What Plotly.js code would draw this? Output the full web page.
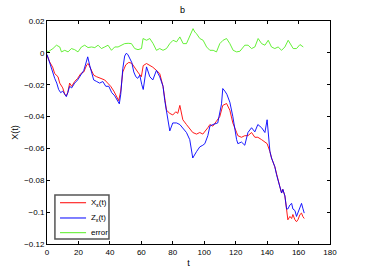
<!DOCTYPE html>
<html><head><meta charset="utf-8">
<script src="https://cdn.plot.ly/plotly-3.0.1.min.js"></script>
<style>html,body{margin:0;padding:0;background:#fff}#c{width:365px;height:275px}</style>
</head><body><div id="c"></div>
<script>
const tX = [0,1.7,3.6,4.9,7.0,8.1,10.0,11.3,12.2,13.2,14.4,15.7,17.6,19.5,21.5,23.4,25.3,26.2,27.8,29.7,31.6,34.2,36.7,38.6,40.5,42.5,44.0,45.6,46.9,48.2,50.1,52.0,53.9,55.8,57.7,60.0,61.2,63.3,65.4,67.3,69.6,71.7,73.8,74.9,76.0,78.1,80.0,81.9,83.2,84.5,86.4,88.7,90.8,92.7,95.1,97.2,99.1,100.4,102.3,103.6,105.5,107.7,109.9,111.8,114.2,116.3,118.2,120.6,121.4,123.7,125.8,127.8,130.1,132.2,134.1,136.5,138.6,140.0,141.8,142.8,144.9,146.0,146.9,148.1,149.2,150.0,151.3,152.4,153.2,154.5,155.6,156.4,157.7,158.7,159.6,160.9,161.9,162.7,163.6];
const X = [-0.0015,-0.0057,-0.009,-0.013,-0.015,-0.019,-0.022,-0.026,-0.027,-0.025,-0.019,-0.021,-0.018,-0.016,-0.013,-0.012,-0.0075,-0.0067,-0.010,-0.014,-0.015,-0.016,-0.017,-0.019,-0.021,-0.024,-0.027,-0.030,-0.024,-0.012,-0.0075,-0.006,-0.0065,-0.0097,-0.012,-0.015,-0.008,-0.0067,-0.0078,-0.009,-0.011,-0.013,-0.021,-0.030,-0.036,-0.038,-0.039,-0.037,-0.038,-0.033,-0.042,-0.045,-0.048,-0.050,-0.051,-0.050,-0.051,-0.0496,-0.047,-0.045,-0.046,-0.043,-0.040,-0.033,-0.0318,-0.036,-0.044,-0.050,-0.052,-0.053,-0.052,-0.052,-0.050,-0.053,-0.053,-0.0545,-0.056,-0.057,-0.062,-0.066,-0.0715,-0.0765,-0.080,-0.084,-0.088,-0.0857,-0.0898,-0.098,-0.1048,-0.1027,-0.104,-0.1015,-0.1048,-0.106,-0.1048,-0.1015,-0.1006,-0.1027,-0.104];
const tZ = [0,1.1,2.4,3.6,4.9,6.2,7.4,8.7,10.0,11.3,12.3,13.2,14.4,15.7,17.6,19.5,21.5,23.4,24.6,25.9,27.2,28.5,29.7,31.6,33.5,35.5,37.4,39.3,41.2,43.1,45.1,46.0,46.9,48.2,49.4,50.4,51.4,52.6,53.9,55.2,56.5,57.7,59.0,60.3,61.2,63.3,65.4,67.3,69.6,71.7,73.8,74.9,76.0,77.1,78.1,80.0,82.4,84.5,86.4,88.7,90.8,92.1,92.7,95.1,97.2,99.1,100.4,102.3,103.6,105.5,108.6,111.0,111.8,113.1,114.4,116.3,118.2,120.6,121.4,123.7,125.8,127.8,130.1,132.2,134.1,136.5,138.6,140.0,141.8,142.8,144.9,146.0,146.9,148.1,149.2,150.0,151.3,152.4,153.2,154.5,155.6,156.4,157.7,158.7,159.6,160.9,161.9,162.7,163.6];
const Z = [-0.001,-0.004,-0.008,-0.012,-0.016,-0.019,-0.023,-0.025,-0.024,-0.026,-0.0275,-0.025,-0.021,-0.022,-0.019,-0.017,-0.014,-0.011,-0.007,-0.0025,-0.008,-0.012,-0.017,-0.018,-0.019,-0.018,-0.021,-0.021,-0.025,-0.027,-0.030,-0.032,-0.026,-0.010,-0.002,-0.0003,-0.001,-0.003,-0.006,-0.012,-0.015,-0.016,-0.014,-0.020,-0.023,-0.0088,-0.015,-0.017,-0.011,-0.015,-0.021,-0.030,-0.036,-0.044,-0.049,-0.044,-0.044,-0.045,-0.047,-0.050,-0.0545,-0.062,-0.066,-0.062,-0.059,-0.058,-0.057,-0.052,-0.046,-0.045,-0.044,-0.032,-0.0224,-0.024,-0.026,-0.031,-0.040,-0.0545,-0.057,-0.056,-0.058,-0.050,-0.047,-0.0496,-0.045,-0.047,-0.050,-0.042,-0.062,-0.066,-0.0715,-0.0765,-0.080,-0.084,-0.088,-0.0857,-0.0898,-0.098,-0.098,-0.0955,-0.0945,-0.098,-0.099,-0.1027,-0.1006,-0.0966,-0.0945,-0.0975,-0.1006];
const tE = [0,0.6,3.8,6.0,8.1,9.2,11.3,13.4,15.5,17.6,19.7,21.9,24.0,26.1,28.3,30.4,32.5,34.6,36.7,38.8,41.0,43.1,45.2,47.4,49.4,51.6,53.7,55.8,57.9,60.1,61.1,63.3,65.4,67.5,69.6,71.7,73.8,76.0,78.1,80.2,82.4,84.5,86.6,88.7,90.8,92.9,94.0,95.1,97.2,99.3,101.5,103.6,105.7,107.8,109.9,112.0,114.2,116.3,118.4,120.6,122.7,124.8,125.8,127.9,130.1,132.2,134.3,136.5,138.6,140.7,142.8,144.9,147.0,149.2,151.3,153.4,154.5,156.6,158.7,160.9,163.0];
const E = [0.0016,0.0006,0.0027,0.0048,0.0037,0.0006,0.0016,0.0006,0.0027,0.002,0.0006,0.0037,0.0048,0.0033,0.0037,0.0033,0.0048,0.0027,0.0037,0.0048,0.0016,0.0037,0.0037,0.0048,0.0058,0.006,0.0058,0.0027,0.002,0.0027,0.009,0.0079,0.009,0.0058,0.0016,0.0027,0.0016,0.0027,0.0058,0.0079,0.0069,0.01,0.0058,0.0058,0.01,0.0152,0.0131,0.012,0.009,0.0079,0.0037,0.0016,0.0016,0.0006,0.0058,0.0079,0.009,0.0058,0.0016,0.0006,0.001,0.0037,0.0048,0.0048,0.0027,0.0037,0.009,0.0058,0.0048,0.0079,0.0037,0.0027,0.0037,0.0016,0.0037,0.0079,0.0058,0.0027,0.0027,0.0052,0.0037];
const xTicks = [0,20,40,60,80,100,120,140,160,180];
const yTicks = [-0.12,-0.1,-0.08,-0.06,-0.04,-0.02,0,0.02];
const yTickText = ['\u22120.12','\u22120.1','\u22120.08','\u22120.06','\u22120.04','\u22120.02','0','0.02'];
const seriesNames = ['X<sub>ε</sub>(t)','Z<sub>ε</sub>(t)','error'];
const seriesColors = ['#ff0000','#0000ff','#55ee22'];

const fam = 'Liberation Sans, Arial, sans-serif';
const font = {family:fam, size:8, color:'#000'};
const data = [[tX,X],[tZ,Z],[tE,E]];
const traces = data.map((d,i)=>({x:d[0], y:d[1], type:'scatter', mode:'lines', name:seriesNames[i], line:{color:seriesColors[i], width:0.9}, showlegend:false}));

// custom compact legend (paper coordinates)
const legY = [0.185, 0.1166, 0.0507];
const shapes = [{type:'rect', xref:'paper', yref:'paper', x0:0.028, x1:0.219, y0:0.022, y1:0.22, line:{color:'#555', width:1.5}, fillcolor:'#fff', layer:'above'}];
const annotations = [];
seriesNames.forEach((n,i)=>{
  shapes.push({type:'line', xref:'paper', yref:'paper', x0:0.046, x1:0.138, y0:legY[i], y1:legY[i], line:{color:seriesColors[i], width:1}, layer:'above'});
  annotations.push({xref:'paper', yref:'paper', x:0.148, y:legY[i], xanchor:'left', yanchor:'middle', text:n, showarrow:false, font:{family:fam, size:8, color:'#000'}});
});

const axBase = {showgrid:false, zeroline:false, showline:true, linecolor:'#000', linewidth:1, mirror:'allticks', ticks:'inside', ticklen:3, tickcolor:'#000', tickfont:font};
const layout = {
  width:365, height:275,
  margin:{l:47, r:35, t:21, b:31},
  paper_bgcolor:'#fff', plot_bgcolor:'#fff',
  font:font,
  title:{text:'b', font:{family:fam, size:9, color:'#000'}, x:0.5, xanchor:'center', y:0.965, yanchor:'middle'},
  xaxis:Object.assign({}, axBase, {range:[0,180], tickvals:xTicks, ticktext:xTicks.map(String), title:{text:'t', font:{family:fam,size:9,color:'#000'}, standoff:4}}),
  yaxis:Object.assign({}, axBase, {range:[-0.12,0.02], tickvals:yTicks, ticktext:yTickText, title:{text:'X(t)', font:{family:fam,size:9,color:'#000'}, standoff:4}}),
  showlegend:false,
  shapes:shapes,
  annotations:annotations
};
Plotly.newPlot('c', traces, layout, {staticPlot:true, displayModeBar:false});
</script></body></html>
